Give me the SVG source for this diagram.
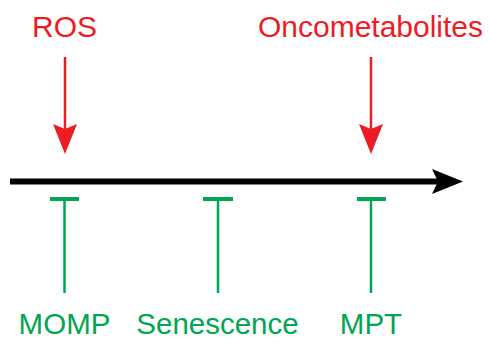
<svg xmlns="http://www.w3.org/2000/svg" width="489" height="347" viewBox="0 0 489 347">
<style>
.red{fill:#ED1C24;font-family:"Liberation Sans",Arial,sans-serif;font-size:30px;text-anchor:middle}
.grn{fill:#00A651;font-family:"Liberation Sans",Arial,sans-serif;font-size:29.5px;text-anchor:middle}
.act{stroke:#ED1C24;stroke-width:2.5;fill:none}
.inh{stroke:#00A651;stroke-width:2.5;fill:none}
.bar{stroke:#00A651;stroke-width:4;fill:none}
</style>
<rect width="489" height="347" fill="#fff"/>
<g id="ROS"><text class="red" x="64.5" y="37">ROS</text></g>
<g id="Oncometabolites"><text class="red" x="370.5" y="37">Oncometabolites</text></g>
<g id="MOMP"><text class="grn" x="64.5" y="334">MOMP</text></g>
<g id="Senescence"><text class="grn" x="217.5" y="334">Senescence</text></g>
<g id="MPT"><text class="grn" x="371" y="334">MPT</text></g>
<g id="connectors">
<line x1="10" y1="181.5" x2="440" y2="181.5" stroke="#000" stroke-width="6"/>
<path d="M463,181.5 L432,169 L438,181.5 L432,194 Z" fill="#000"/>
<line class="act" x1="65" y1="57" x2="65" y2="130"/>
<path d="M65,154 L53,124 L65,129 L77,124 Z" fill="#ED1C24"/>
<line class="act" x1="371" y1="57" x2="371" y2="130"/>
<path d="M371,154 L359,124 L371,129 L383,124 Z" fill="#ED1C24"/>
<line class="inh" x1="64.5" y1="199" x2="64.5" y2="293"/>
<line class="bar" x1="50" y1="199" x2="79" y2="199"/>
<line class="inh" x1="218" y1="199" x2="218" y2="293"/>
<line class="bar" x1="203" y1="199" x2="233" y2="199"/>
<line class="inh" x1="371" y1="199" x2="371" y2="293"/>
<line class="bar" x1="357" y1="199" x2="386" y2="199"/>
</g>
</svg>
